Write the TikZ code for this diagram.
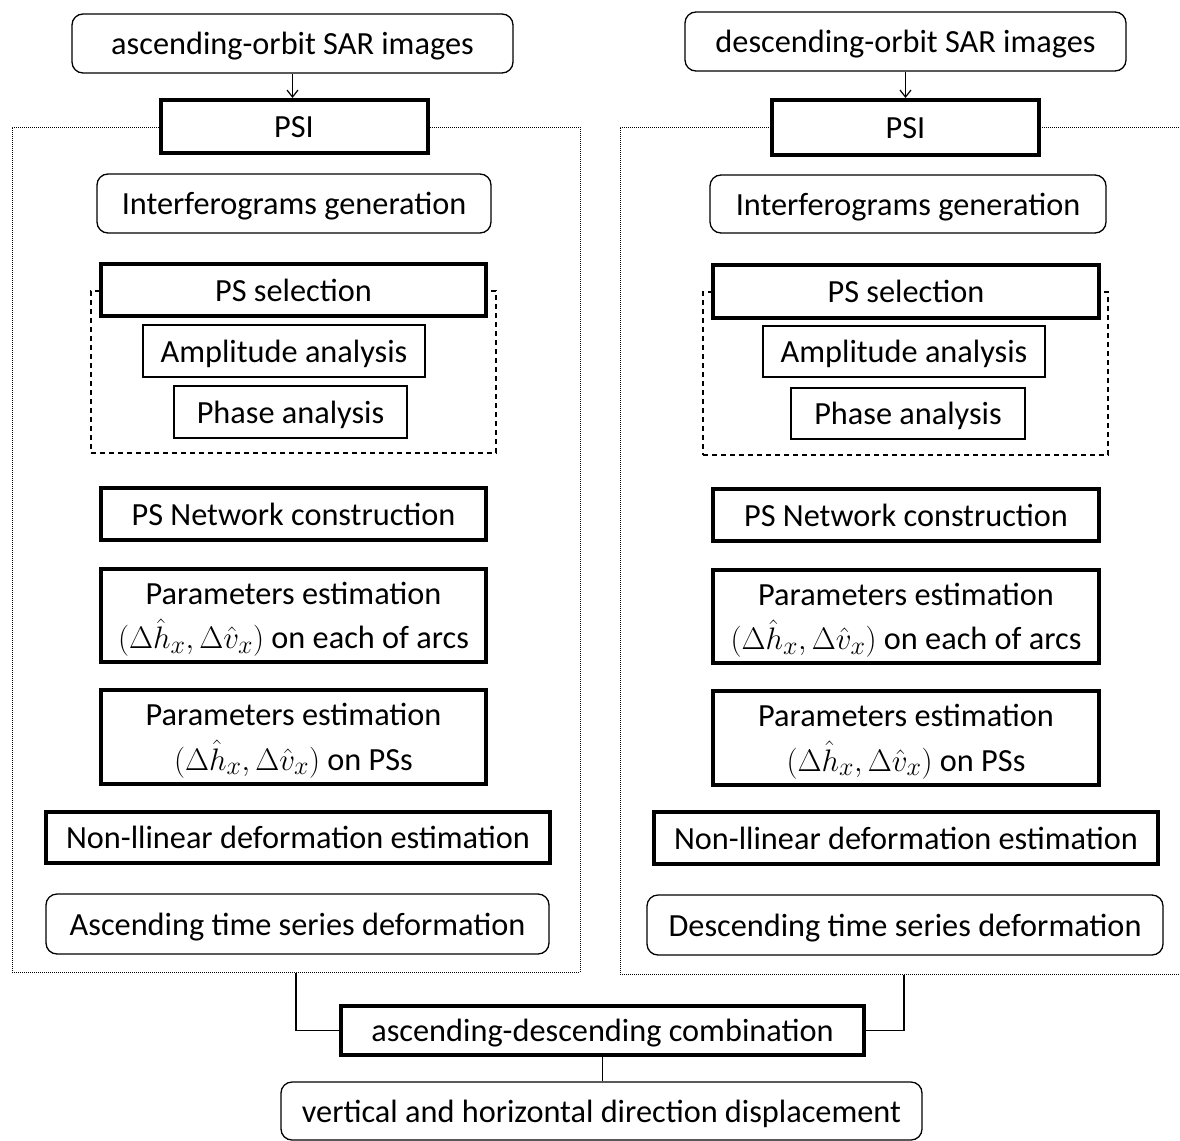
\documentclass[tikz,border=0pt]{standalone}
\usepackage{fontspec}
\setmainfont{Carlito}
\usetikzlibrary{arrows.meta}
\newcommand{\hvpair}{\scalebox{1.25}{\fontsize{24.88}{30}\selectfont$(\Delta\hat{h}_x,\Delta\hat{v}_x)$}}
\newcommand{\twolines}[2]{\raisebox{-3pt}[\height][\depth]{\begin{tabular}{@{}c@{}}#1\\[3pt]#2\end{tabular}}}
\begin{document}
\begin{tikzpicture}[x=1pt,y=-1pt,
  every node/.style={font=\fontsize{32.3}{39}\selectfont, inner sep=0pt, align=center, fill=white, text height=25pt, text depth=3pt},
  thinbox/.style={draw, line width=1.3pt},
  roundbox/.style={draw, line width=1.3pt, rounded corners=11pt},
  thickbox/.style={draw, line width=4pt},
  parbox/.style={draw, line width=4pt, text height=, text depth=},
  outerbox/.style={draw, line width=1pt, dash pattern=on 1pt off 1pt, fill=none},
  innerbox/.style={draw, line width=1.2pt, dash pattern=on 5pt off 4pt, fill=none},
  conn/.style={line width=1.2pt}
]
\useasboundingbox (0,0) rectangle (1180,1140);
\fill[white] (0,0) rectangle (1180,1140);

% containers
\node[outerbox, minimum width=568pt, minimum height=845pt] (boxL) at (296,549.5) {};
\node[outerbox, minimum width=568pt, minimum height=847pt] (boxR) at (904,550.5) {};
\node[innerbox, minimum width=405pt, minimum height=162pt] (dashL) at (293.5,372) {};
\node[innerbox, minimum width=405pt, minimum height=163pt] (dashR) at (905.5,373.5) {};

% left column
\node[roundbox, minimum width=441pt, minimum height=59pt] (ascL) at (292.5,43.5) {ascending-orbit SAR images};
\node[thickbox, minimum width=267pt, minimum height=53pt] (psiL) at (294,126.5) {PSI};
\node[roundbox, minimum width=394pt, minimum height=59pt] (intL) at (294,203.5) {Interferograms generation};
\node[thickbox, minimum width=385pt, minimum height=52pt] (selL) at (293.5,290) {PS selection};
\node[thinbox, minimum width=282pt, minimum height=52pt] (ampL) at (284,351) {Amplitude analysis};
\node[thinbox, minimum width=233pt, minimum height=52pt] (phaL) at (290.5,412) {Phase analysis};
\node[thickbox, minimum width=385pt, minimum height=52pt] (netL) at (293.5,514) {PS Network construction};
\node[parbox, minimum width=385pt, minimum height=93pt] (parAL) at (293.5,615.5) {\twolines{Parameters estimation}{\hvpair{} on each of arcs}};
\node[parbox, minimum width=385pt, minimum height=94pt] (parPL) at (293.5,737) {\twolines{Parameters estimation}{\hvpair{} on PSs}};
\node[thickbox, minimum width=504pt, minimum height=51pt] (nonL) at (298,837.5) {Non-llinear deformation estimation};
\node[roundbox, minimum width=503pt, minimum height=60pt] (tsL) at (297.5,924) {Ascending time series deformation};

% right column
\node[roundbox, minimum width=441pt, minimum height=59pt] (ascR) at (905.5,41.5) {descending-orbit SAR images};
\node[thickbox, minimum width=267pt, minimum height=55pt] (psiR) at (905.5,127.5) {PSI};
\node[roundbox, minimum width=396pt, minimum height=58pt] (intR) at (908,204) {Interferograms generation};
\node[thickbox, minimum width=386pt, minimum height=53pt] (selR) at (906,291.5) {PS selection};
\node[thinbox, minimum width=282pt, minimum height=51pt] (ampR) at (904,351.5) {Amplitude analysis};
\node[thinbox, minimum width=234pt, minimum height=51pt] (phaR) at (908,413.5) {Phase analysis};
\node[thickbox, minimum width=386pt, minimum height=52pt] (netR) at (906,515) {PS Network construction};
\node[parbox, minimum width=386pt, minimum height=93pt] (parAR) at (906,616.5) {\twolines{Parameters estimation}{\hvpair{} on each of arcs}};
\node[parbox, minimum width=386pt, minimum height=94pt] (parPR) at (906,738) {\twolines{Parameters estimation}{\hvpair{} on PSs}};
\node[thickbox, minimum width=504pt, minimum height=52pt] (nonR) at (906,838) {Non-llinear deformation estimation};
\node[roundbox, minimum width=516pt, minimum height=60pt] (tsR) at (905,925) {Descending time series deformation};

% bottom
\node[thickbox, minimum width=523pt, minimum height=49pt] (comb) at (602.5,1030.5) {ascending-descending combination};
\node[roundbox, minimum width=641pt, minimum height=58pt] (disp) at (601.5,1111) {vertical and horizontal direction displacement};

% connectors
\draw[conn, -{Straight Barb[length=7pt,width=11pt]}] (ascL.south) -- (ascL.south |- psiL.north);
\draw[conn, -{Straight Barb[length=7pt,width=11pt]}] (ascR.south) -- (ascR.south |- psiR.north);
\draw[conn] (boxL.south) |- (comb.west);
\draw[conn] (boxR.south) |- (comb.east);
\draw[conn] (comb.south) -- (comb.south |- disp.north);
\end{tikzpicture}
\end{document}
